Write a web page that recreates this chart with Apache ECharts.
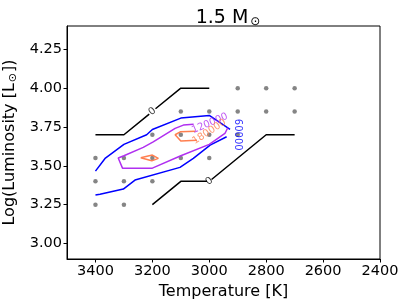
<!DOCTYPE html>
<html><head><meta charset="utf-8">
<script src="https://cdn.jsdelivr.net/npm/echarts@6/dist/echarts.min.js"></script>
<style>html,body{margin:0;padding:0;background:#fff}#c{width:407px;height:306px}</style>
</head><body><div id="c"></div>
<script>
// grid model points
var gridT = [3400,3400,3400,3300,3300,3300,3200,3200,3200,3100,3100,3100,3000,3000,3000,2900,2900,2900,2800,2800,2700,2700];
var gridL = [3.25,3.40,3.55,3.25,3.40,3.55,3.40,3.55,3.70,3.55,3.70,3.85,3.55,3.70,3.85,3.70,3.85,4.00,3.85,4.00,3.85,4.00];
var xTicks = [3400,3200,3000,2800,2600,2400];
var yTicks = [3.00,3.25,3.50,3.75,4.00,4.25];
// contour level 0 (black), two branches, null = gap for inline label
var c0aT = [3400,3300,3211,null,3189,3100,3000];
var c0aL = [3.70,3.70,3.833,null,3.867,4.00,4.00];
var c0bT = [3200,3100,3008,null,2992,2800,2700];
var c0bL = [3.25,3.40,3.40,null,3.412,3.70,3.70];
// level 60000 (blue)
var c1aT = [3400,3365,3300,3220,3200,3100,3000,2927];
var c1aL = [3.466,3.55,3.638,3.70,3.734,3.807,3.824,3.734];
var c1bT = [3400,3384,3302,3261,3103,3056,2997,2939];
var c1bL = [3.312,3.317,3.35,3.408,3.49,3.548,3.633,3.687];
// level 120000 (purple)
var c2T = [3055,3091,3120,3197,3232,3300,3320,3305,3200,3100,3000,2945,2935];
var c2L = [3.767,3.762,3.741,3.654,3.619,3.565,3.55,3.485,3.485,3.565,3.638,3.708,3.745];
// level 180000 (orange)
var c3aT = [3049,3102,3120,3100,3043];
var c3aL = [3.722,3.719,3.70,3.659,3.665];
var c3bT = [3241,3200,3179,3202,3241];
var c3bL = [3.552,3.569,3.548,3.532,3.552];
// inline contour labels
var labT = [3200,3000,2900,2998,3000];
var labL = [3.85,3.40,3.70,3.773,3.719];
var labText = ['0','0','60000','120000','180000'];
var labRot = [39,39,-90,23,33];
var labColor = ['#000000','#000000','#0000ff','#b030f0','#ff7f50'];

function pts(t,l){return t.map(function(v,i){return v===null?'-':[v,l[i]];});}
var FONT = 'DejaVu Sans';
var chart = echarts.init(document.getElementById('c'));
function line(t,l,color){
  return {type:'line',data:pts(t,l),showSymbol:false,symbol:'none',connectNulls:false,
    lineStyle:{color:color,width:1.5},silent:true,animation:false,z:3};
}
var series = [
  {type:'scatter',data:gridT.map(function(t,i){return [t,gridL[i]];}),symbolSize:4.5,
   itemStyle:{color:'#666666'},animation:false,z:2},
  line(c0aT,c0aL,'#000000'), line(c0bT,c0bL,'#000000'),
  line(c1aT,c1aL,'#0000ff'), line(c1bT,c1bL,'#0000ff'),
  line(c2T,c2L,'#b030f0'),
  line(c3aT,c3aL,'#ff7f50'), line(c3bT,c3bL,'#ff7f50')
];
labT.forEach(function(t,i){
  series.push({type:'scatter',symbolSize:0,animation:false,z:5,
    data:[[t,labL[i]]],
    label:{show:true,position:'inside',formatter:labText[i],rotate:labRot[i],
      color:labColor[i],fontSize:10,fontFamily:FONT}});
});
chart.setOption({
  animation:false,
  title:{text:'{a|1.5 M}{s|\u2299}',left:223,top:3,textAlign:'center',
    textStyle:{fontWeight:'normal',rich:{a:{fontSize:19,fontFamily:FONT,color:'#000',fontWeight:'normal'},
      s:{fontSize:12,fontFamily:FONT,color:'#000',fontWeight:'normal',padding:[8,0,0,2]}}}},
  grid:{left:67,right:27,top:26,bottom:47,show:true,borderColor:'#000',borderWidth:1,
    backgroundColor:'transparent',containLabel:false,outerBoundsMode:'none'},
  xAxis:{type:'value',min:2400,max:3500,inverse:true,
    name:'Temperature [K]',nameLocation:'middle',nameGap:25,
    nameTextStyle:{fontSize:16,fontFamily:FONT,color:'#000'},
    axisLine:{show:true,onZero:false,lineStyle:{color:'#000',width:1}},
    axisTick:{show:true,length:3.5,customValues:xTicks,lineStyle:{color:'#000'}},
    axisLabel:{customValues:xTicks,fontSize:14.5,fontFamily:FONT,color:'#000',margin:5,
      formatter:function(v){return String(v);}},
    splitLine:{show:false}},
  yAxis:{type:'value',min:2.9,max:4.4,
    name:'{a|Log(Luminosity [L}{s|\u2299}{a|])}',nameLocation:'middle',nameGap:47,nameRotate:90,
    nameTextStyle:{rich:{a:{fontSize:16,fontFamily:FONT,color:'#000'},
      s:{fontSize:11,fontFamily:FONT,color:'#000',padding:[6,1,0,1]}}},
    axisLine:{show:true,onZero:false,lineStyle:{color:'#000',width:1}},
    axisTick:{show:true,length:3.5,customValues:yTicks,lineStyle:{color:'#000'}},
    axisLabel:{customValues:yTicks,fontSize:14.5,fontFamily:FONT,color:'#000',margin:5,
      formatter:function(v){return v.toFixed(2);}},
    splitLine:{show:false}},
  series:series
});
</script></body></html>
